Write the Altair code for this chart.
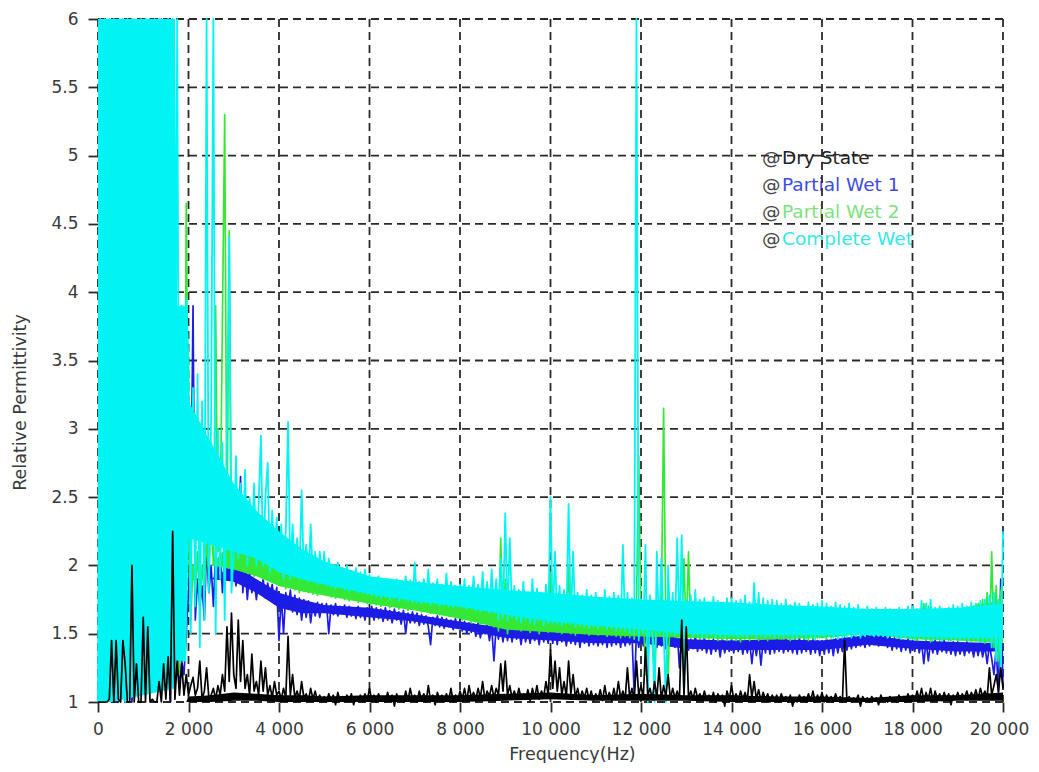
import altair as alt
import pandas as pd

# ---------------- data ----------------
freq = list(range(0, 20001, 50))  # Hz

series = ["Dry State", "Partial Wet 1", "Partial Wet 2", "Complete Wet"]
line_colors = ["#000000", "#1c1ce6", "#36e836", "#00f4f4"]
text_colors = ["#222222", "#3d4be0", "#7fe07f", "#33e8e8"]

xticks = [0, 2000, 4000, 6000, 8000, 10000, 12000, 14000, 16000, 18000, 20000]
yticks = [1, 1.5, 2, 2.5, 3, 3.5, 4, 4.5, 5, 5.5, 6]

complete_wet = [
    1.0, 6.0, 1.2, 6.0, 1.5, 6.0, 1.1, 6.0, 2.0, 5.0, 1.3, 6.0, 1.0, 6.0, 1.8, 6.0, 1.2, 4.9, 1.4, 6.0,
    1.5, 6.0, 1.3, 3.6, 2.0, 6.0, 1.4, 6.0, 5.7, 3.75, 1.6, 6.0, 1.2, 6.0, 1.8, 6.0, 1.5, 3.9, 1.3, 3.95,
    3.5, 1.5, 3.3, 1.7, 3.4, 1.4, 3.2, 1.6, 6.0, 1.8, 3.1, 6.0, 1.5, 3.0, 1.9, 2.9, 1.6, 3.0, 4.4, 1.8,
    2.1, 2.8, 2.05, 2.6, 2.1, 2.7, 2.0, 2.5, 2.1, 2.6, 2.0, 2.45, 2.95, 2.0, 2.5, 2.75, 1.95, 2.4, 2.05, 2.35,
    1.95, 2.3, 1.9, 2.25, 3.05, 1.9, 2.3, 1.95, 2.2, 1.9, 2.55, 1.9, 2.15, 1.88, 2.3, 1.9, 2.1, 1.86, 2.1, 1.88,
    2.1, 1.85, 2.05, 1.84, 2.0, 1.83, 2.02, 1.84, 1.97, 1.82, 2.0, 1.81, 1.96, 1.82, 1.98, 1.8, 1.95, 1.8, 1.97, 1.79,
    1.93, 1.78, 1.9, 1.77, 1.92, 1.76, 1.88, 1.77, 1.9, 1.75, 1.87, 1.76, 1.9, 1.74, 1.88, 1.75, 1.92, 1.74, 1.89, 1.73,
    2.02, 1.73, 1.88, 1.72, 1.9, 1.73, 1.97, 1.71, 1.87, 1.72, 1.9, 1.7, 1.86, 1.71, 1.94, 1.7, 1.88, 1.69, 1.85, 1.7,
    1.86, 1.69, 1.9, 1.68, 1.85, 1.69, 1.92, 1.67, 1.86, 1.66, 1.95, 1.67, 1.88, 1.65, 1.97, 1.66, 1.9, 1.6, 2.05, 1.62,
    2.38, 1.6, 2.2, 1.62, 1.85, 1.6, 1.82, 1.58, 1.88, 1.6, 1.8, 1.58, 1.9, 1.57, 1.83, 1.6, 1.8, 1.56, 1.86, 1.58,
    2.5, 1.58, 2.1, 1.57, 1.85, 1.56, 1.82, 1.58, 2.45, 1.57, 2.1, 1.55, 1.8, 1.56, 1.78, 1.55, 1.82, 1.54, 1.78, 1.55,
    1.8, 1.54, 1.76, 1.55, 1.82, 1.53, 1.77, 1.54, 1.8, 1.52, 1.78, 1.53, 2.15, 1.52, 1.8, 1.5, 1.76, 1.5, 6.0, 1.45,
    1.75, 1.5, 2.15, 1.0, 1.78, 1.48, 1.0, 2.1, 1.5, 2.05, 1.52, 1.0, 2.0, 1.5, 1.8, 1.49, 2.2, 1.5, 2.22, 1.05,
    1.74, 1.5, 1.78, 1.48, 1.82, 1.49, 1.75, 1.47, 1.76, 1.48, 1.73, 1.49, 1.77, 1.47, 1.74, 1.48, 1.72, 1.47, 1.76, 1.48,
    1.76, 1.48, 1.74, 1.47, 1.75, 1.48, 1.78, 1.47, 1.73, 1.49, 1.87, 1.47, 1.8, 1.48, 1.76, 1.47, 1.74, 1.48, 1.75, 1.47,
    1.74, 1.48, 1.72, 1.47, 1.75, 1.48, 1.71, 1.46, 1.73, 1.47, 1.72, 1.48, 1.7, 1.46, 1.73, 1.47, 1.71, 1.46, 1.72, 1.47,
    1.74, 1.47, 1.72, 1.48, 1.7, 1.47, 1.73, 1.46, 1.71, 1.47, 1.7, 1.48, 1.72, 1.47, 1.69, 1.48, 1.71, 1.47, 1.68, 1.48,
    1.7, 1.49, 1.68, 1.48, 1.69, 1.49, 1.67, 1.48, 1.69, 1.47, 1.68, 1.48, 1.66, 1.47, 1.69, 1.46, 1.67, 1.47, 1.7, 1.46,
    1.7, 1.46, 1.68, 1.47, 1.74, 1.46, 1.72, 1.47, 1.75, 1.45, 1.69, 1.46, 1.7, 1.45, 1.68, 1.46, 1.69, 1.45, 1.71, 1.46,
    1.7, 1.45, 1.72, 1.46, 1.7, 1.45, 1.73, 1.46, 1.72, 1.45, 1.74, 1.44, 1.75, 1.45, 1.78, 1.4, 1.8, 1.3, 1.75, 1.2,
    2.25,
]

partial_wet_2 = [
    1.0, 1.2, 1.0, 1.3, 1.1, 1.2, 3.0, 1.1, 1.3, 1.85, 1.2, 1.1, 5.0, 1.3, 1.2, 1.1, 6.0, 1.4, 4.1, 1.85,
    1.2, 1.4, 1.3, 3.65, 1.2, 1.5, 1.3, 1.2, 1.4, 1.3, 1.2, 2.55, 1.3, 1.4, 2.7, 1.3, 1.2, 3.9, 1.5, 4.65,
    2.2, 1.6, 2.0, 1.8, 2.1, 1.7, 2.0, 1.8, 2.2, 1.9, 2.4, 2.0, 3.9, 2.1, 2.3, 3.8, 5.3, 2.2, 4.45, 2.1,
    2.25, 1.98, 2.3, 2.0, 2.2, 1.95, 2.4, 1.97, 2.15, 1.92, 2.2, 1.93, 2.1, 1.9, 2.15, 1.9, 2.05, 1.88, 2.12, 1.87,
    2.05, 1.85, 2.1, 1.83, 2.0, 1.84, 2.05, 1.82, 1.98, 1.8, 2.02, 1.81, 1.97, 1.8, 2.0, 1.79, 1.96, 1.78, 1.98, 1.79,
    1.95, 1.78, 1.97, 1.77, 1.93, 1.76, 1.95, 1.77, 1.92, 1.75, 1.94, 1.74, 1.9, 1.75, 1.92, 1.73, 1.89, 1.74, 1.9, 1.72,
    1.88, 1.72, 1.86, 1.71, 1.87, 1.7, 1.84, 1.71, 1.86, 1.69, 1.83, 1.7, 1.85, 1.68, 1.82, 1.69, 1.84, 1.67, 1.83, 1.68,
    1.82, 1.67, 1.84, 1.66, 1.81, 1.67, 1.83, 1.65, 1.8, 1.66, 1.82, 1.64, 1.79, 1.65, 1.81, 1.63, 1.8, 1.64, 1.78, 1.62,
    1.8, 1.6, 1.78, 1.62, 1.79, 1.58, 1.77, 1.6, 1.78, 1.57, 1.8, 1.58, 1.76, 1.56, 1.79, 1.55, 1.77, 1.52, 2.2, 1.54,
    1.9, 1.5, 1.75, 1.55, 1.74, 1.53, 1.76, 1.52, 1.73, 1.54, 1.75, 1.51, 1.72, 1.53, 1.74, 1.5, 1.73, 1.52, 1.75, 1.51,
    1.95, 1.52, 1.74, 1.51, 1.72, 1.5, 1.73, 1.52, 2.0, 1.5, 1.74, 1.49, 1.72, 1.51, 1.73, 1.5, 1.71, 1.49, 1.72, 1.5,
    1.73, 1.49, 1.71, 1.5, 1.72, 1.48, 1.7, 1.49, 1.72, 1.48, 1.71, 1.47, 1.74, 1.48, 1.7, 1.47, 1.72, 1.46, 1.71, 2.8,
    1.5, 1.72, 1.2, 1.7, 1.48, 1.73, 1.1, 1.7, 1.49, 1.71, 3.15, 1.48, 1.2, 1.72, 1.49, 1.7, 1.47, 1.68, 1.5, 2.05,
    1.48, 2.1, 1.47, 1.7, 1.48, 1.69, 1.46, 1.71, 1.47, 1.68, 1.46, 1.7, 1.47, 1.69, 1.45, 1.68, 1.46, 1.7, 1.45, 1.69,
    1.46, 1.69, 1.45, 1.7, 1.44, 1.68, 1.46, 1.71, 1.45, 1.69, 1.47, 1.72, 1.45, 1.7, 1.46, 1.68, 1.45, 1.69, 1.46, 1.68,
    1.47, 1.67, 1.46, 1.68, 1.47, 1.66, 1.45, 1.67, 1.46, 1.68, 1.47, 1.66, 1.46, 1.67, 1.45, 1.66, 1.46, 1.67, 1.47, 1.66,
    1.48, 1.66, 1.46, 1.67, 1.47, 1.65, 1.48, 1.66, 1.49, 1.65, 1.48, 1.67, 1.5, 1.66, 1.49, 1.65, 1.5, 1.66, 1.51, 1.65,
    1.51, 1.66, 1.52, 1.65, 1.51, 1.66, 1.52, 1.64, 1.5, 1.65, 1.49, 1.64, 1.48, 1.65, 1.47, 1.64, 1.48, 1.66, 1.47, 1.65,
    1.46, 1.66, 1.45, 1.68, 1.47, 1.72, 1.45, 1.7, 1.44, 1.66, 1.46, 1.67, 1.45, 1.65, 1.46, 1.66, 1.45, 1.67, 1.46, 1.66,
    1.45, 1.67, 1.46, 1.68, 1.45, 1.69, 1.44, 1.7, 1.45, 1.72, 1.44, 1.75, 1.43, 1.8, 1.45, 2.1, 1.4, 1.85, 1.3, 1.8,
    1.9,
]

partial_wet_1 = [
    1.0, 1.2, 1.0, 1.4, 1.1, 1.3, 1.0, 1.2, 1.0, 6.0, 1.3, 1.1, 1.0, 1.4, 1.2, 1.0, 1.3, 5.6, 1.1, 1.2,
    2.45, 1.3, 1.55, 6.0, 1.2, 1.3, 1.1, 1.4, 6.0, 4.5, 1.2, 1.3, 1.0, 2.65, 1.2, 1.4, 1.1, 1.3, 1.2, 1.5,
    1.8, 2.3, 3.9, 1.6, 1.9, 1.7, 1.85, 1.6, 2.15, 1.8, 2.0, 1.7, 2.1, 1.9, 2.1, 1.8, 2.1, 1.95, 2.15, 2.0,
    2.0, 1.85, 2.1, 2.65, 1.8, 2.0, 1.75, 1.95, 1.8, 1.9, 1.75, 1.88, 1.8, 1.9, 1.76, 1.87, 1.78, 1.86, 1.72, 1.84,
    1.45, 1.78, 1.5, 1.8, 1.68, 1.82, 1.66, 1.78, 1.64, 1.76, 1.6, 1.75, 1.62, 1.74, 1.58, 1.72, 1.63, 1.73, 1.62, 1.72,
    1.66, 1.72, 1.5, 1.71, 1.64, 1.72, 1.63, 1.7, 1.65, 1.71, 1.62, 1.7, 1.63, 1.69, 1.61, 1.7, 1.62, 1.68, 1.6, 1.69,
    1.62, 1.7, 1.6, 1.69, 1.61, 1.68, 1.59, 1.69, 1.6, 1.67, 1.58, 1.68, 1.6, 1.66, 1.57, 1.67, 1.5, 1.65, 1.58, 1.66,
    1.58, 1.65, 1.56, 1.64, 1.57, 1.63, 1.55, 1.42, 1.62, 1.56, 1.63, 1.55, 1.62, 1.54, 1.61, 1.55, 1.6, 1.53, 1.61, 1.54,
    1.6, 1.52, 1.59, 1.5, 1.58, 1.51, 1.57, 1.48, 1.58, 1.47, 1.56, 1.5, 1.57, 1.45, 1.55, 1.3, 1.56, 1.46, 1.55, 1.44,
    1.55, 1.45, 1.54, 1.44, 1.55, 1.46, 1.53, 1.42, 1.54, 1.44, 1.52, 1.43, 1.55, 1.45, 1.53, 1.42, 1.54, 1.44, 1.52, 1.43,
    1.55, 1.43, 1.53, 1.42, 1.54, 1.44, 1.52, 1.41, 1.53, 1.43, 1.52, 1.42, 1.54, 1.4, 1.52, 1.43, 1.53, 1.41, 1.52, 1.42,
    1.53, 1.41, 1.52, 1.42, 1.54, 1.4, 1.52, 1.41, 1.53, 1.42, 1.51, 1.4, 1.53, 1.41, 1.52, 1.42, 1.5, 1.05, 1.52, 1.4,
    1.52, 1.41, 1.5, 1.4, 1.53, 1.42, 1.51, 1.4, 1.52, 1.41, 1.5, 1.39, 1.52, 1.41, 1.5, 1.4, 1.51, 1.25, 1.52, 1.4,
    1.47, 1.38, 1.46, 1.39, 1.48, 1.37, 1.46, 1.38, 1.47, 1.36, 1.45, 1.35, 1.46, 1.37, 1.45, 1.33, 1.46, 1.36, 1.45, 1.37,
    1.46, 1.36, 1.45, 1.37, 1.46, 1.35, 1.44, 1.36, 1.45, 1.28, 1.44, 1.34, 1.46, 1.27, 1.45, 1.36, 1.46, 1.35, 1.47, 1.36,
    1.46, 1.37, 1.47, 1.36, 1.46, 1.37, 1.45, 1.36, 1.46, 1.35, 1.47, 1.36, 1.46, 1.37, 1.45, 1.35, 1.46, 1.36, 1.45, 1.34,
    1.45, 1.35, 1.46, 1.36, 1.45, 1.34, 1.46, 1.36, 1.45, 1.37, 1.47, 1.38, 1.46, 1.39, 1.48, 1.4, 1.47, 1.41, 1.48, 1.4,
    1.49, 1.41, 1.48, 1.42, 1.49, 1.41, 1.5, 1.42, 1.49, 1.4, 1.48, 1.38, 1.47, 1.39, 1.46, 1.37, 1.45, 1.38, 1.46, 1.36,
    1.45, 1.37, 1.46, 1.36, 1.44, 1.28, 1.45, 1.3, 1.44, 1.36, 1.45, 1.35, 1.44, 1.37, 1.45, 1.36, 1.43, 1.35, 1.44, 1.34,
    1.44, 1.35, 1.43, 1.34, 1.44, 1.36, 1.43, 1.33, 1.42, 1.34, 1.43, 1.33, 1.41, 1.28, 1.42, 1.32, 1.2, 1.4, 1.05, 1.9,
    1.1,
]

dry_state = [
    1.0, 1.0, 1.0, 1.0, 1.0, 1.02, 1.45, 1.0, 1.45, 1.02, 1.0, 1.45, 1.28, 1.0, 1.0, 2.0, 1.0, 1.28, 1.0, 1.0,
    1.62, 1.0, 1.55, 1.0, 1.02, 1.0, 1.0, 1.15, 1.0, 1.28, 1.02, 1.33, 1.0, 2.25, 1.02, 1.3, 1.05, 1.28, 1.05, 1.2,
    1.05, 1.12, 1.18, 1.05, 1.1, 1.3, 1.02, 1.08, 1.25, 1.03, 1.05, 1.1, 1.02, 1.12, 1.05, 1.2, 1.08, 1.55, 1.15, 1.65,
    1.2, 1.1, 1.6, 1.15, 1.45, 1.1, 1.2, 1.05, 1.35, 1.08, 1.15, 1.05, 1.3, 1.08, 1.25, 1.05, 1.12, 1.03, 1.15, 1.05,
    1.08, 1.02, 1.1, 1.03, 1.48, 1.05, 1.2, 1.03, 1.08, 1.02, 1.15, 1.03, 1.06, 1.01, 1.1, 1.02, 1.08, 1.01, 1.05, 1.0,
    1.04, 1.0, 1.06, 1.01, 1.05, 0.98, 1.07, 1.01, 1.04, 1.0, 1.05, 1.01, 1.06, 0.98, 1.04, 1.01, 1.05, 1.0, 1.06, 1.01,
    1.1, 1.01, 1.05, 1.0, 1.06, 1.02, 1.04, 1.0, 1.07, 1.01, 1.05, 0.97, 1.06, 1.01, 1.04, 1.0, 1.08, 1.01, 1.1, 1.02,
    1.05, 1.0, 1.08, 1.01, 1.06, 1.0, 1.12, 1.01, 1.05, 0.98, 1.07, 1.02, 1.05, 1.0, 1.06, 1.01, 1.1, 1.0, 1.05, 1.01,
    1.08, 1.02, 1.1, 1.01, 1.12, 1.03, 1.07, 1.02, 1.1, 1.03, 1.15, 1.02, 1.08, 1.04, 1.12, 1.03, 1.1, 1.05, 1.28, 1.08,
    1.3, 1.05, 1.12, 1.03, 1.08, 1.02, 1.1, 1.03, 1.06, 1.02, 1.09, 1.01, 1.1, 1.03, 1.12, 1.02, 1.08, 1.04, 1.15, 1.05,
    1.38, 1.1, 1.3, 1.08, 1.25, 1.05, 1.15, 1.04, 1.3, 1.06, 1.2, 1.03, 1.1, 1.02, 1.08, 1.03, 1.1, 1.02, 1.08, 1.01,
    1.06, 1.02, 1.09, 1.01, 1.12, 1.02, 1.07, 1.01, 1.1, 1.02, 1.15, 1.03, 1.08, 1.02, 1.25, 1.03, 1.1, 1.02, 1.3, 1.05,
    1.12, 1.03, 1.4, 1.05, 1.1, 1.02, 1.15, 1.03, 1.25, 1.02, 1.12, 1.04, 1.2, 1.02, 1.1, 1.03, 1.08, 1.02, 1.6, 1.05,
    1.55, 1.03, 1.08, 1.02, 1.1, 1.03, 1.06, 1.01, 1.08, 1.02, 1.05, 1.01, 1.07, 1.0, 1.06, 1.02, 1.05, 0.97, 1.08, 1.02,
    1.12, 1.02, 1.06, 1.01, 1.08, 1.02, 1.07, 1.01, 1.2, 1.03, 1.15, 1.02, 1.09, 1.01, 1.07, 1.02, 1.06, 1.0, 1.05, 1.01,
    1.05, 1.0, 1.06, 1.01, 1.04, 1.0, 1.05, 0.97, 1.03, 1.0, 1.05, 1.01, 1.04, 1.0, 1.06, 1.01, 1.08, 1.0, 1.05, 1.01,
    1.07, 1.0, 1.05, 1.01, 1.04, 1.0, 1.06, 1.01, 1.04, 1.0, 1.45, 1.01, 1.04, 1.0, 1.03, 1.01, 1.05, 0.97, 1.04, 1.01,
    1.03, 1.0, 1.04, 1.01, 1.03, 0.98, 1.05, 1.01, 1.03, 1.0, 1.04, 1.01, 1.03, 1.0, 1.05, 1.01, 1.04, 1.0, 1.06, 1.01,
    1.05, 1.01, 1.08, 1.02, 1.1, 1.01, 1.07, 1.02, 1.1, 1.01, 1.08, 1.02, 1.06, 1.01, 1.07, 1.02, 1.06, 0.98, 1.05, 1.02,
    1.07, 1.02, 1.06, 1.03, 1.08, 1.02, 1.07, 1.03, 1.09, 1.02, 1.1, 1.04, 1.08, 1.03, 1.25, 1.05, 1.12, 1.2, 1.08, 1.25,
    1.1,
]

# solid core of each noisy band (read as lower / upper edge of the dense trace)
band_f = [0, 300, 1000, 1700, 1750, 1950, 2000, 2500, 3000, 3500, 4000, 4500, 5000, 6000,
          7000, 8000, 9000, 10000, 11000, 12000, 13000, 14000, 15000, 16000, 17000, 18000,
          19000, 20000]
cyan_lo = [1.0, 1.0, 1.05, 1.1, 1.3, 1.3, 2.2, 2.15, 2.1, 2.05, 1.95, 1.9, 1.86, 1.79,
           1.74, 1.7, 1.64, 1.59, 1.56, 1.53, 1.5, 1.49, 1.49, 1.49, 1.49, 1.48, 1.47, 1.47]
cyan_hi = [6.0, 6.0, 6.0, 6.0, 3.9, 3.9, 3.2, 2.9, 2.6, 2.4, 2.25, 2.12, 2.03, 1.92,
           1.88, 1.85, 1.82, 1.8, 1.77, 1.75, 1.74, 1.73, 1.71, 1.7, 1.68, 1.68, 1.69, 1.72]
green_lo = [1.0, 1.0, 1.0, 1.0, 1.0, 1.0, 2.0, 2.0, 1.97, 1.92, 1.85, 1.81, 1.78, 1.72,
            1.67, 1.61, 1.53, 1.51, 1.49, 1.48, 1.47, 1.46, 1.46, 1.47, 1.5, 1.46, 1.45, 1.43]
green_hi = [1.0, 1.0, 1.0, 1.0, 1.0, 1.0, 2.0, 2.0, 2.2, 2.12, 2.05, 2.0, 1.95, 1.87,
            1.82, 1.79, 1.74, 1.73, 1.72, 1.7, 1.69, 1.69, 1.67, 1.66, 1.65, 1.66, 1.68, 1.75]
blue_lo = [1.0, 1.0, 1.0, 1.0, 1.0, 1.0, 1.0, 1.9, 1.88, 1.8, 1.69, 1.65, 1.65, 1.62,
           1.59, 1.53, 1.47, 1.45, 1.43, 1.43, 1.39, 1.38, 1.38, 1.38, 1.42, 1.39, 1.37, 1.37]
blue_hi = [1.0, 1.0, 1.0, 1.0, 1.0, 1.0, 1.0, 1.9, 2.0, 1.9, 1.8, 1.75, 1.71, 1.69,
           1.64, 1.59, 1.54, 1.53, 1.53, 1.51, 1.46, 1.45, 1.46, 1.45, 1.49, 1.45, 1.44, 1.43]
black_lo = [1.0, 1.0, 1.0, 1.0, 1.0, 1.0, 1.0, 1.0, 1.01, 1.01, 1.0, 1.0, 1.0, 1.0,
            1.0, 1.0, 1.01, 1.02, 1.01, 1.01, 1.01, 1.0, 1.0, 1.0, 1.0, 1.0, 1.01, 1.01]
black_hi = [1.0, 1.0, 1.0, 1.0, 1.0, 1.0, 1.04, 1.05, 1.07, 1.06, 1.05, 1.05, 1.04, 1.05,
            1.05, 1.05, 1.06, 1.07, 1.05, 1.06, 1.05, 1.05, 1.04, 1.04, 1.03, 1.05, 1.05, 1.07]

for arr in (complete_wet, partial_wet_2, partial_wet_1, dry_state):
    assert len(arr) == len(freq), len(arr)
for arr in (cyan_lo, cyan_hi, green_lo, green_hi, blue_lo, blue_hi, black_lo, black_hi):
    assert len(arr) == len(band_f), len(arr)

# ---------------- scales / axes ----------------
FONT = "DejaVu Sans"
GRID_COLOR = "#2a2a2a"
LABEL_COLOR = "#3a3a3a"

xs = alt.Scale(domain=[0, 20000], nice=False, zero=False)
ys = alt.Scale(domain=[1, 6], nice=False, zero=False)

xaxis = alt.Axis(
    values=xticks, grid=False, domain=False, tickSize=10, tickWidth=1.8,
    tickColor=GRID_COLOR, labelFont=FONT, labelFontSize=17, labelColor=LABEL_COLOR,
    labelPadding=9, labelFlush=False, labelOverlap=False,
    labelOffset={"condition": {"test": "datum.value === 20000", "value": -4}, "value": 0},
    labelExpr="replace(format(datum.value, ','), ',', ' ')",
    title="Frequency(Hz)", titleFont=FONT, titleFontSize=17.5, titleFontWeight="normal",
    titleColor=LABEL_COLOR, titleX=474, titleY=57, titleBaseline="alphabetic",
    titleAlign="center",
)
yaxis = alt.Axis(
    values=yticks, grid=False, domain=False, tickSize=10, tickWidth=1.8,
    tickColor=GRID_COLOR, labelFont=FONT, labelFontSize=17, labelColor=LABEL_COLOR,
    labelPadding=10, format="~g",
    title="Relative Permittivity", titleFont=FONT, titleFontSize=17.5,
    titleFontWeight="normal", titleColor=LABEL_COLOR, titleAngle=270,
    titleX=-73, titleY=383, titleBaseline="alphabetic", titleAlign="center",
)

X = alt.X("f:Q", scale=xs, axis=xaxis)
Y = alt.Y("v:Q", scale=ys, axis=yaxis)

# ---------------- legend text (drawn under the grid) ----------------
legend_layers = []
for i, name in enumerate(series):
    ypos = 139 + 27 * i
    at = alt.Chart(pd.DataFrame({"t": ["@"]})).mark_text(
        align="left", baseline="middle", font=FONT, fontSize=18.5, color="#444444"
    ).encode(x=alt.value(664), y=alt.value(ypos), text="t:N")
    lab = alt.Chart(pd.DataFrame({"t": [name]})).mark_text(
        align="left", baseline="middle", font=FONT, fontSize=18.5, color=text_colors[i]
    ).encode(x=alt.value(684), y=alt.value(ypos), text="t:N")
    legend_layers += [at, lab]

# ---------------- dashed grid ----------------
vgrid = alt.Chart(pd.DataFrame({"f": xticks})).mark_rule(
    color=GRID_COLOR, strokeWidth=1.8, strokeDash=[8, 5]
).encode(x=X)
hgrid = alt.Chart(pd.DataFrame({"v": yticks})).mark_rule(
    color=GRID_COLOR, strokeWidth=1.8, strokeDash=[8, 5]
).encode(y=Y)

# ---------------- spectra ----------------
def band(lo, hi, color):
    df = pd.DataFrame({"f": band_f, "lo": lo, "hi": hi})
    return alt.Chart(df).mark_area(color=color, opacity=1).encode(
        x=X, y=alt.Y("lo:Q", scale=ys, axis=yaxis), y2="hi:Q"
    )

def spectrum(values, color, width):
    df = pd.DataFrame({"f": freq, "v": values})
    return alt.Chart(df).mark_line(
        color=color, strokeWidth=width, strokeJoin="round"
    ).encode(x=X, y=Y)

layers = [
    band(blue_lo, blue_hi, line_colors[1]),
    spectrum(partial_wet_1, line_colors[1], 1.7),
    band(green_lo, green_hi, line_colors[2]),
    spectrum(partial_wet_2, line_colors[2], 1.7),
    band(cyan_lo, cyan_hi, line_colors[3]),
    spectrum(complete_wet, line_colors[3], 1.8),
    band(black_lo, black_hi, line_colors[0]),
    spectrum(dry_state, line_colors[0], 1.7),
]

chart = alt.layer(*legend_layers, vgrid, hgrid, *layers).properties(
    width=905,
    height=683,
    autosize=alt.AutoSizeParams(type="none"),
    padding={"left": 90, "top": 11, "right": 28, "bottom": 61},
    background="white",
).configure_view(stroke=None)

chart.save("out.html", embed_options={"renderer": "svg", "actions": False})
